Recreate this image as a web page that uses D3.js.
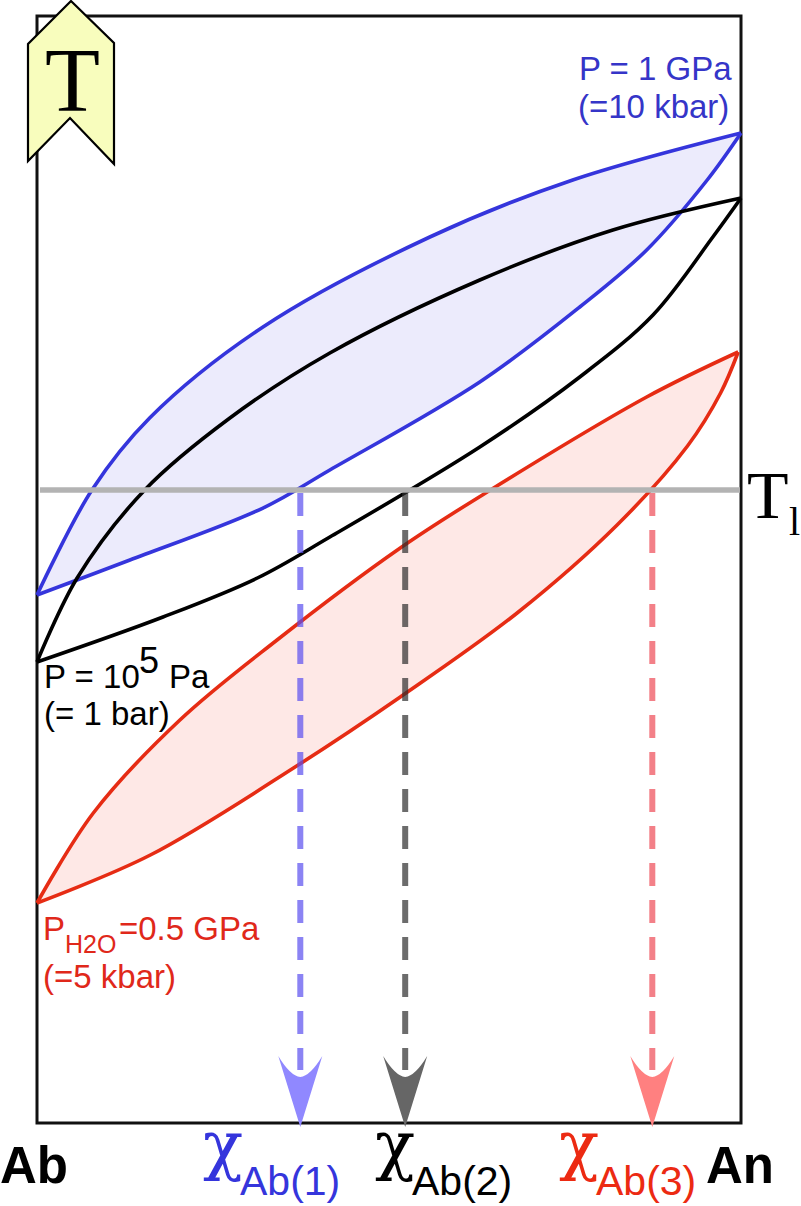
<!DOCTYPE html>
<html>
<head>
<meta charset="utf-8">
<script src="https://cdn.jsdelivr.net/npm/d3@7"></script>
<style>
  html, body { margin: 0; padding: 0; background: #fff; overflow: hidden; }
  text { font-family: "Liberation Sans", Arial, sans-serif; }
  .serif { font-family: "Liberation Serif", "Times New Roman", serif; }
</style>
</head>
<body>
<div id="content"></div>
<script>
// composition (% An, 0 = Ab, 100 = An) and temperature (arbitrary units)
var blueLiqX = [0, 7.8, 16, 32.1, 55.8, 76.1, 100];
var blueLiqT = [528, 633, 705, 796, 886, 943, 990];
var blueSolX = [0, 13.2, 32.1, 41.6, 62.9, 77.1, 86.6, 95.2, 100];
var blueSolT = [528, 563, 615, 653, 741, 816, 873, 943, 990];

var blackLiqX = [0, 5.7, 15.3, 27.4, 41.6, 62.9, 81.8, 100];
var blackLiqT = [461, 545, 633, 705, 770, 843, 893, 925];
var blackSolX = [0, 17.9, 31.3, 41.6, 62.9, 77.1, 87.5, 96, 100];
var blackSolT = [461, 506, 545, 586, 676, 746, 808, 886, 925];

var redLiqX = [0, 8, 20.3, 34.1, 51.6, 64.4, 86.6, 99.6];
var redLiqT = [220, 310, 403, 483, 575, 633, 726, 771];
var redSolX = [0, 16.1, 37.1, 51.6, 68.2, 82.4, 92.4, 97.1, 99.6];
var redSolT = [220, 268, 358, 426, 510, 598, 677, 730, 771];

var isothermT = 633;
var tieX = [37.4, 52.3, 87.4];
var tieNames = ['Ab(1)', 'Ab(2)', 'Ab(3)'];

var svg = d3.select('#content').append('svg')
  .attr('width', 801)
  .attr('height', 1206)
  .style('display', 'block');

var x = d3.scaleLinear().domain([0, 100]).range([37, 741]);
var y = d3.scaleLinear().domain([0, 1107]).range([1123, 16]);

var line = d3.line()
  .x(function(d) { return x(d[0]); })
  .y(function(d) { return y(d[1]); })
  .curve(d3.curveCatmullRom.alpha(0.5));

function pts(xs, ts) {
  return xs.map(function(v, i) { return [v, ts[i]]; });
}

// one solidus/liquidus loop, shaded between the two curves
function loop(liqX, liqT, solX, solT, stroke, fill) {
  var liq = pts(liqX, liqT), sol = pts(solX, solT);
  var upper = line(liq);
  var lower = line(sol.slice().reverse());
  if (fill) {
    svg.append('path')
      .attr('d', upper + 'L' + lower.slice(1) + 'Z')
      .attr('fill', fill);
  }
  [upper, line(sol)].forEach(function(d) {
    svg.append('path')
      .attr('d', d)
      .attr('fill', 'none')
      .attr('stroke', stroke)
      .attr('stroke-width', 3.6)
      .attr('stroke-linejoin', 'round');
  });
}

// frame
svg.append('rect')
  .attr('x', x(0)).attr('y', y(1107))
  .attr('width', x(100) - x(0)).attr('height', y(0) - y(1107))
  .attr('fill', 'none')
  .attr('stroke', '#111')
  .attr('stroke-width', 3);

loop(blueLiqX, blueLiqT, blueSolX, blueSolT, '#3535dc', '#ecebfc');
loop(redLiqX, redLiqT, redSolX, redSolT, '#e62c14', '#fee8e6');
loop(blackLiqX, blackLiqT, blackSolX, blackSolT, '#000', null);

// isotherm, sits on top of the curves
svg.append('line')
  .attr('x1', x(0) + 3).attr('x2', x(100) - 1)
  .attr('y1', y(isothermT)).attr('y2', y(isothermT))
  .attr('stroke', '#b3b3b3')
  .attr('stroke-width', 5.5);

// dashed drop lines and arrow heads
var dashColors = ['#5a4ef0', '#2e2e2e', '#ee4a55'];
var headColors = ['#9088ff', '#666666', '#ff8080'];

tieX.forEach(function(v, i) {
  var px = x(v);
  svg.append('line')
    .attr('x1', px).attr('x2', px)
    .attr('y1', y(isothermT) + 3).attr('y2', 1070)
    .attr('stroke', dashColors[i])
    .attr('stroke-opacity', 0.7)
    .attr('stroke-width', 6)
    .attr('stroke-dasharray', '23 14');
  svg.append('path')
    .attr('d', 'M' + px + ',1127 L' + (px - 22) + ',1056 Q' + (px - 10) + ',1076 ' + px + ',1077 Q' + (px + 10) + ',1076 ' + (px + 22) + ',1056 Z')
    .attr('fill', headColors[i]);
});

// T chevron
svg.append('polygon')
  .attr('points', '71,1 114,43 114,164 70,118 28,161 28,44')
  .attr('fill', '#f8fdbd')
  .attr('stroke', '#000')
  .attr('stroke-width', 2.2);

function label(txt, px, py, size, color, cls, weight) {
  return svg.append('text')
    .attr('x', px).attr('y', py)
    .attr('font-size', size)
    .attr('fill', color)
    .attr('class', cls || null)
    .attr('font-weight', weight || null)
    .text(txt);
}

label('T', 45, 111, 90, '#000', 'serif');
label('T', 747, 518, 68, '#000', 'serif');
label('l', 789, 535, 40, '#000', 'serif');

label('P = 1 GPa', 579, 80, 33, '#3535c8');
label('(=10 kbar)', 578, 118, 33, '#3535c8');

label('P = 10', 44, 688, 33, '#000');
label('5', 139, 673, 36, '#000');
label('Pa', 169, 688, 33, '#000');
label('(= 1 bar)', 44, 725, 33, '#000');

label('P', 43, 940, 33, '#e0281a');
label('H2O', 65, 953, 25, '#e0281a');
label('=0.5 GPa', 119, 940, 33, '#e0281a');
label('(=5 kbar)', 43, 988, 33, '#e0281a');

label('Ab', 0, 1183, 51, '#000', null, 'bold');
label('An', 706, 1183, 51, '#000', null, 'bold');

var chiColors = ['#3535dc', '#000', '#ec2a12'];
var chiX = [203, 375, 559];
tieNames.forEach(function(n, i) {
  label('\u03c7', chiX[i], 1167, 66, chiColors[i]).style('font-family', '"DejaVu Serif"');
  label(n, chiX[i] + 37, 1195, 41, chiColors[i]);
});
</script>
</body>
</html>
